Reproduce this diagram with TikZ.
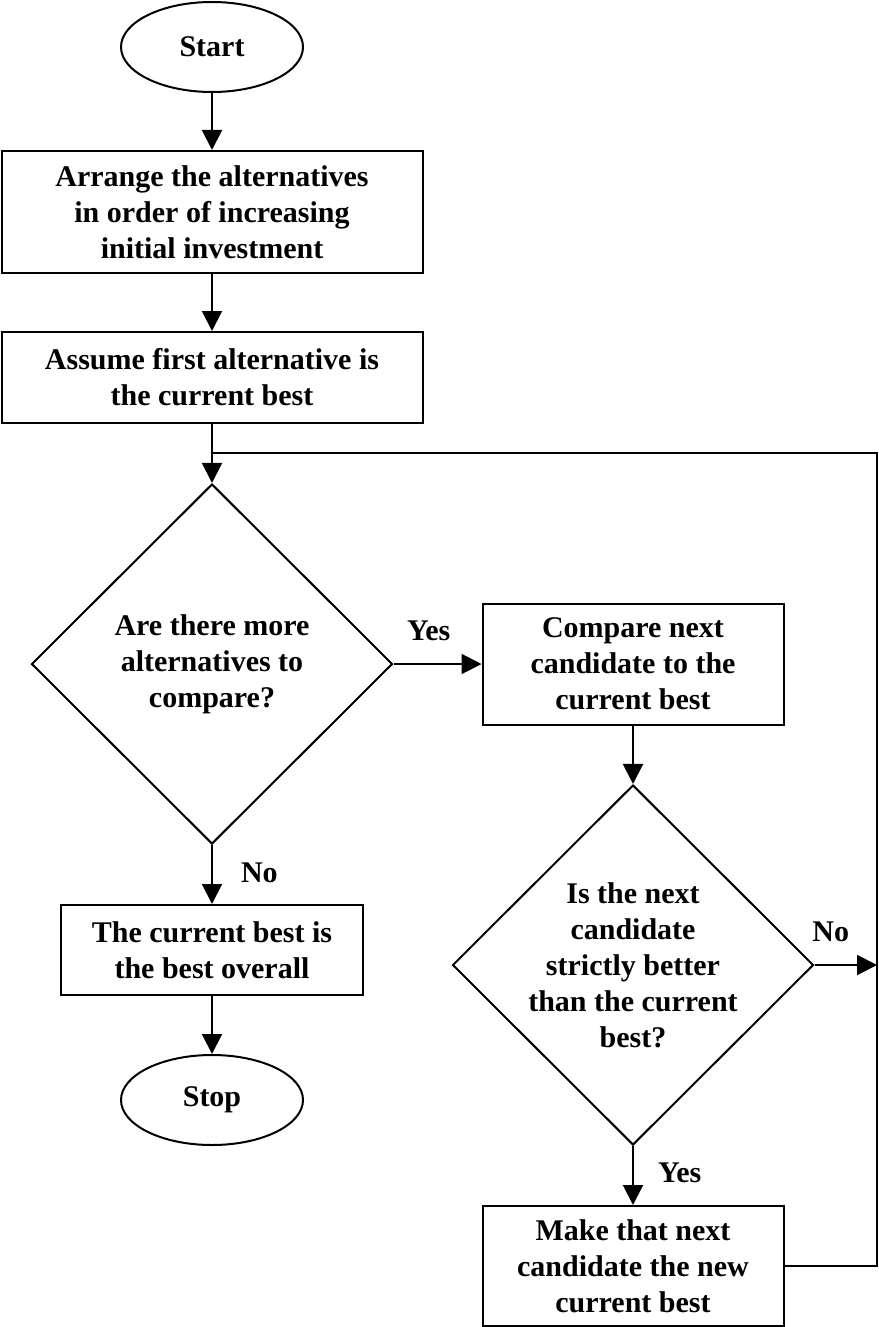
\documentclass[tikz,border=0pt]{standalone}
\usepackage{fontspec}
\setmainfont{Liberation Serif}
\usetikzlibrary{shapes.geometric,arrows.meta,positioning}

\begin{document}
\begin{tikzpicture}[x=1pt,y=-1pt,line width=2pt,
   every node/.style={font=\fontsize{30}{36}\selectfont\bfseries},
   box/.style={draw,rectangle,align=center,inner sep=0pt},
   term/.style={draw,ellipse,minimum width=182pt,minimum height=90pt,inner sep=0pt},
   test/.style={draw,diamond,minimum width=361pt,minimum height=360pt,inner sep=0pt},
   txt/.style={align=center,inner sep=0pt},
   lbl/.style={inner sep=0pt},
   flow/.style={-{Triangle[width=20pt,length=20pt]}}]
\useasboundingbox (0,0) rectangle (878,1327);
\node[term] (start) at (212,47) {Start};
\node[box,minimum width=421pt,minimum height=122pt] (arrange) at (212,212)
   {Arrange the alternatives\\in order of increasing\\initial investment};
\node[box,minimum width=421pt,minimum height=91pt] (assume) at (212,377.5)
   {Assume first alternative is\\the current best};
\node[test,label={[txt]center:Are there more\\alternatives to\\compare?}] (more) at (212,664) {};
\node[box,minimum width=301pt,minimum height=121pt] (compare) at (633,664)
   {Compare next\\candidate to the\\current best};
\node[test,label={[txt]center:Is the next\\candidate\\strictly better\\than the current\\best?}] (better) at (633,965) {};
\node[box,minimum width=301pt,minimum height=120pt] (make) at (633,1266)
   {Make that next\\candidate the new\\current best};
\node[box,minimum width=302pt,minimum height=90pt] (overall) at (212,950)
   {The current best is\\the best overall};
\node[term] (stop) at (212,1100) {Stop};
\coordinate (loop) at (877,453);
\coordinate (join) at (212,453);
\coordinate (noend) at (877,965);

\draw[flow] (start) -- (arrange);
\draw[flow] (arrange) -- (assume);
\draw[flow] (assume) -- (more);
\draw[flow] (more.east) -- node[lbl,pos=0.4,above=22pt] {Yes} (compare.west);
\draw[flow] (compare) -- (better);
\draw[flow] (better.east) -- node[lbl,pos=0.26,above=22pt] {No} (noend);
\draw[flow] (better.south) -- node[lbl,pos=0.45,right=24pt] {Yes} (make.north);
\draw (make.east) -| (loop) -- (join);
\draw[flow] (more.south) -- node[lbl,pos=0.47,right=28pt] {No} (overall.north);
\draw[flow] (overall) -- (stop);
\end{tikzpicture}
\end{document}
